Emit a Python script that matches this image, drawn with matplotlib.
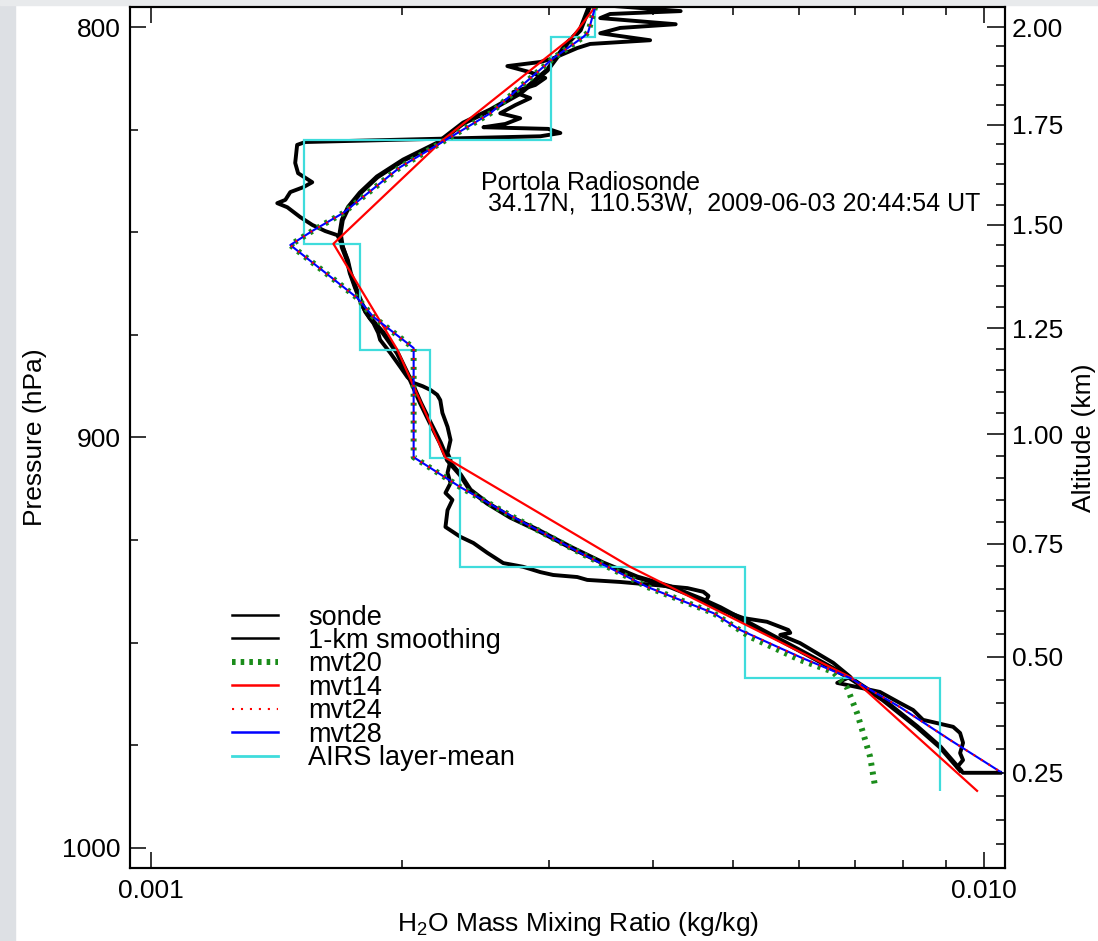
import numpy as np
import matplotlib
matplotlib.use('Agg')
import matplotlib.pyplot as plt
from matplotlib.lines import Line2D
from matplotlib.patches import Rectangle
from matplotlib.ticker import FixedLocator, NullFormatter, FormatStrFormatter

plt.rcParams['font.family'] = ['Liberation Sans', 'DejaVu Sans']
plt.rcParams['mathtext.fontset'] = 'custom'
plt.rcParams['mathtext.rm'] = 'Liberation Sans'
plt.rcParams['mathtext.it'] = 'Liberation Sans:italic'

### Radiosonde profile (mixing ratio in g/kg, pressure in hPa)
sonde_q = np.array([3.461, 4.323, 3.557, 3.461, 4.264, 3.657, 3.461, 3.973, 3.366, 3.248,
                    3.039, 2.933, 2.677, 2.852, 2.973, 2.892, 2.722, 2.852, 2.737, 2.625,
                    2.774, 2.662, 2.506, 2.997, 3.100, 2.933, 1.531, 1.497, 1.489, 1.501,
                    1.561, 1.523, 1.469, 1.449, 1.417, 1.457, 1.510, 1.561, 1.618, 1.673,
                    1.696, 1.720, 1.734, 1.758, 1.782, 1.807, 1.848, 1.873, 1.883, 1.937,
                    1.991, 2.031, 2.066, 2.118, 2.164, 2.205, 2.224, 2.237, 2.269, 2.288,
                    2.269, 2.288, 2.269, 2.288, 2.256, 2.300, 2.269, 2.256, 2.351, 2.437,
                    2.533, 2.647, 2.796, 2.933, 3.039, 3.248, 3.339, 3.657, 4.006, 4.405,
                    4.603, 4.669, 4.630, 4.734, 5.141, 5.488, 5.822, 5.854, 5.694, 6.014,
                    6.591, 6.907, 6.665, 7.040, 7.500, 7.929, 8.221, 8.450, 9.184, 9.362,
                    9.439, 9.362, 9.439, 9.286, 9.439, 10.455]) * 1e-3
sonde_p = [794.6, 796.1, 796.8, 797.8, 799.3, 800.2, 801.5, 803.2, 804.1, 805.1,
           807.6, 808.5, 809.5, 811.0, 812.4, 814.1, 815.8, 817.3, 819.0, 821.0,
           822.2, 823.6, 824.4, 824.8, 825.8, 826.6, 828.0, 828.7, 833.1, 835.6,
           837.8, 839.0, 840.2, 842.1, 842.9, 843.9, 846.3, 848.2, 849.7, 850.7,
           853.1, 856.8, 859.9, 863.3, 866.5, 869.4, 872.1, 874.5, 876.2, 879.4,
           882.8, 885.3, 886.7, 887.5, 888.4, 889.6, 890.9, 894.0, 897.4, 900.6,
           903.8, 905.5, 908.6, 911.1, 913.5, 915.2, 917.7, 921.8, 924.2, 925.7,
           928.1, 930.6, 931.5, 932.8, 933.5, 934.0, 934.7, 935.2, 935.9, 936.7,
           937.6, 938.6, 940.1, 941.3, 944.0, 944.9, 946.9, 947.6, 948.1, 950.1,
           954.9, 958.3, 959.8, 960.8, 962.0, 964.7, 966.4, 968.8, 970.5, 972.0,
           974.4, 976.9, 978.6, 980.3, 981.7, 981.7]

### 1-km smoothed sonde
smooth_q = np.array([3.366, 3.275, 3.160, 2.989, 2.774, 2.554, 2.370, 2.205, 2.008, 1.868,
                     1.782, 1.725, 1.696, 1.686, 1.696, 1.720, 1.734, 1.758, 1.792, 1.832,
                     1.899, 1.975, 2.048, 2.106, 2.164, 2.224, 2.269, 2.351, 2.416, 2.533,
                     2.699, 2.908, 3.185, 3.490, 3.832, 4.205, 4.603, 4.826, 5.488, 6.308,
                     6.907, 7.564, 8.313, 8.859, 9.362]) * 1e-3
smooth_p = [794.5, 800.7, 803.9, 810.5, 816.1, 820.2, 823.4, 828.3, 832.4, 836.5,
            840.4, 843.9, 847.0, 850.2, 853.6, 856.8, 859.9, 863.3, 867.7, 870.9,
            874.5, 879.4, 886.0, 891.6, 896.5, 901.3, 905.5, 909.1, 912.8, 916.0,
            919.4, 922.5, 926.7, 930.6, 934.0, 936.4, 939.6, 941.5, 947.6, 954.2,
            958.6, 963.9, 970.5, 975.4, 981.0]

### Retrievals
mvt14_q = np.array([3.43, 3.203, 2.243, 1.655, 1.975, 2.256, 3.759, 6.944, 9.812]) * 1e-3
mvt14_p = [794.5, 802.4, 827.4, 852.8, 878.6, 904.9, 931.5, 958.6, 986.1]

mvt28_q = np.array([3.413, 3.348, 3.303, 3.039, 2.774, 2.554, 2.332, 2.224, 1.991, 1.796,
                    1.700, 1.566, 1.469, 1.768, 1.848, 2.066, 2.066, 2.351, 2.722, 3.275,
                    3.941, 4.734, 5.097, 6.014, 6.907, 7.929, 9.107, 10.51]) * 1e-3
mvt28_p = [795.1, 801.2, 802.4, 807.6, 814.6, 821.0, 825.8, 828.3, 834.1, 841.4,
           845.3, 849.5, 853.1, 866.0, 870.6, 878.2, 904.8, 912.1, 919.4, 928.1,
           936.4, 942.8, 946.9, 953.5, 958.6, 965.7, 973.7, 981.7]

# mvt24 lies on top of mvt28
mvt24_q = np.array([3.413, 3.348, 3.303, 3.039, 2.774, 2.554, 2.332, 2.224, 1.991, 1.796,
                    1.700, 1.566, 1.469, 1.768, 1.848, 2.066, 2.066, 2.351, 2.722, 3.275,
                    3.941, 4.734, 5.097, 6.014, 6.907, 7.929, 9.107, 10.51]) * 1e-3
mvt24_p = [795.1, 801.2, 802.4, 807.6, 814.6, 821.0, 825.8, 828.3, 834.1, 841.4,
           845.3, 849.5, 853.1, 866.0, 870.6, 878.2, 904.8, 912.1, 919.4, 928.1,
           936.4, 942.8, 946.9, 953.5, 958.6, 965.7, 973.7, 981.7]

mvt20_q = np.array([3.413, 3.348, 3.303, 3.039, 2.774, 2.554, 2.332, 2.224, 1.991, 1.796,
                    1.700, 1.566, 1.469, 1.768, 1.848, 2.066, 2.066, 2.351, 2.722, 3.275,
                    3.941, 4.734, 5.242, 6.014, 6.591, 6.851, 7.040, 7.160, 7.300, 7.400]) * 1e-3
mvt20_p = [795.1, 801.2, 802.4, 807.6, 814.6, 821.0, 825.8, 828.3, 834.1, 841.4,
           845.3, 849.5, 853.1, 866.0, 870.6, 878.2, 904.8, 912.1, 919.4, 928.1,
           936.4, 942.8, 948.6, 954.2, 957.1, 961.0, 967.1, 972.0, 977.8, 985.0]

### AIRS layer means
airs_edges = [777.8, 802.4, 827.4, 852.8, 878.6, 904.9, 931.5, 958.6, 986.1]
airs_q = np.array([3.412, 3.021, 1.527, 1.782, 2.162, 2.349, 5.166, 8.857]) * 1e-3

### Altitude axis ticks (km)
alt_major = [0.25, 0.50, 0.75, 1.00, 1.25, 1.50, 1.75, 2.00]
alt_minor = np.arange(0.10, 2.001, 0.05)

# pressure <-> altitude for the right hand axis
P0, H = 1010.8, 8.552
def alt2p(z):
    return P0 * np.exp(-np.asarray(z) / H)

GREEN = '#1a8c1a'
CYAN = '#3fdcdc'

fig = plt.figure(figsize=(10.98, 9.41), dpi=100)
fig.patches.append(Rectangle((0, 0), 15 / 1098, 1, transform=fig.transFigure,
                             color='#dde0e4', zorder=-10))
fig.patches.append(Rectangle((0, 1 - 5 / 941), 1, 5 / 941, transform=fig.transFigure,
                             color='#e8eaec', zorder=-10))

ax = fig.add_axes([130 / 1098, 1 - 868 / 941, 875 / 1098, 861 / 941])
ax.set_xscale('log')

ax.plot(sonde_q, sonde_p, color='k', lw=2.8, zorder=2)
ax.plot(smooth_q, smooth_p, color='k', lw=3.6, zorder=2)
ax.stairs(airs_q, airs_edges, orientation='horizontal', baseline=None,
          edgecolor=CYAN, lw=1.6, zorder=3)
ax.plot(mvt20_q, mvt20_p, color=GREEN, lw=4.3, dashes=(0.5, 1.0), zorder=4)
ax.plot(mvt14_q, mvt14_p, color='red', lw=1.6, zorder=5)
ax.plot(mvt28_q, mvt28_p, color='blue', lw=1.5, zorder=6)
ax.plot(mvt24_q, mvt24_p, color='red', lw=1.5, dashes=(1.0, 3.3), zorder=7)

ax.set_xlim(0.000943, 0.0106)
ax.set_ylim(1004.9, 795.1)

ax.xaxis.set_major_locator(FixedLocator([0.001, 0.01]))
ax.xaxis.set_major_formatter(FormatStrFormatter('%.3f'))
ax.xaxis.set_minor_locator(FixedLocator([0.001 * k for k in range(2, 10)]))
ax.xaxis.set_minor_formatter(NullFormatter())
ax.yaxis.set_major_locator(FixedLocator([800, 900, 1000]))
ax.yaxis.set_minor_locator(FixedLocator([825, 850, 875, 925, 950, 975]))

ax.tick_params(which='both', direction='in', top=True, right=False, width=1.1,
               labelsize=19)
ax.tick_params(which='major', length=11.5)
ax.tick_params(which='minor', length=5.8)
ax.tick_params(axis='x', pad=8)
ax.tick_params(axis='y', pad=7)

ax.set_xlabel('H$_2$O Mass Mixing Ratio (kg/kg)', fontsize=19)
ax.xaxis.set_label_coords(0.512, -0.049)
ax.set_ylabel('Pressure (hPa)', fontsize=19)
ax.yaxis.set_label_coords(-0.095, 0.5)

ax2 = ax.twinx()
ax2.set_ylim(ax.get_ylim())
ax2.yaxis.set_major_locator(FixedLocator(alt2p(alt_major)))
ax2.yaxis.set_major_formatter(plt.FixedFormatter(['%.2f' % z for z in alt_major]))
ax2.yaxis.set_minor_locator(FixedLocator(alt2p(alt_minor)))
ax2.yaxis.set_minor_formatter(NullFormatter())
ax2.tick_params(axis='y', which='both', direction='in', left=False, right=True,
                width=1.1, labelsize=19, pad=5)
ax2.tick_params(axis='y', which='major', length=13)
ax2.tick_params(axis='y', which='minor', length=6.5)
ax2.set_ylabel('Altitude (km)', fontsize=19, labelpad=6)

for a in (ax, ax2):
    for s in a.spines.values():
        s.set_linewidth(1.5)

ax.text(0.4011, 0.7875, 'Portola Radiosonde', transform=ax.transAxes,
        fontsize=18, va='baseline', ha='left', zorder=10)
ax.text(0.4011, 0.7642, ' 34.17N,  110.53W,  2009-06-03 20:44:54 UT',
        transform=ax.transAxes, fontsize=18, va='baseline', ha='left', zorder=10)

handles = [
    Line2D([], [], color='k', lw=1.8),
    Line2D([], [], color='k', lw=1.8),
    Line2D([], [], color=GREEN, lw=4.3, dashes=(0.6, 0.85)),
    Line2D([], [], color='red', lw=1.8),
    Line2D([], [], color='red', lw=1.5, dashes=(1.0, 3.3)),
    Line2D([], [], color='blue', lw=1.8),
    Line2D([], [], color=CYAN, lw=2.0),
]
labels = ['sonde', '1-km smoothing', 'mvt20', 'mvt14', 'mvt24', 'mvt28',
          'AIRS layer-mean']
ax2.legend(handles, labels, loc='upper left', bbox_to_anchor=(0.1166, 0.306),
           frameon=False, fontsize=19.5, handlelength=1.7, handletextpad=1.1,
           labelspacing=-0.095, borderpad=0, borderaxespad=0)

fig.savefig('out.png', dpi=100)
